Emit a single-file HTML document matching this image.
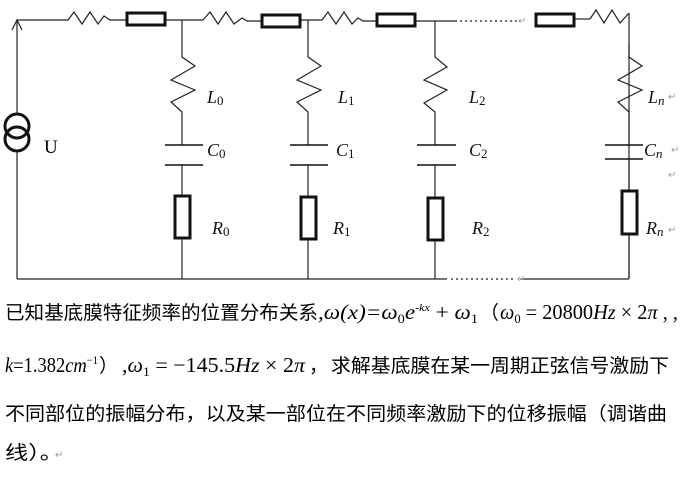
<!DOCTYPE html>
<html><head><meta charset="utf-8"><style>
html,body{margin:0;padding:0;background:#fff;width:690px;height:479px;overflow:hidden}
svg{display:block}
.m{font-family:"Liberation Serif",serif;font-style:italic;font-size:21px}
.n{font-family:"Liberation Serif",serif;font-size:18px}
.c{font-family:"Liberation Sans","Noto Sans CJK SC",sans-serif;font-size:19px}
.lb{font-family:"Liberation Serif",serif;font-style:italic;font-size:18px;fill:#111}
.sb{font-family:"Liberation Serif",serif;font-style:normal;font-size:13px}
.ret{font-family:"Liberation Sans",sans-serif;font-size:10px;fill:#999}
</style></head><body>
<svg width="690" height="479" viewBox="0 0 690 479" xmlns="http://www.w3.org/2000/svg">
<g fill="none" stroke="#222" stroke-width="1.2">
<line x1="17" y1="20" x2="17" y2="113"/>
<line x1="17" y1="152" x2="17" y2="279"/>
<path d="M12,30 L17,20 L22,30"/>
<path d="M17,20 H68 L74,12 L82,24 L90,12 L98,24 L104,16 L110,20 H127"/>
<line x1="165" y1="20" x2="203" y2="20"/>
<path d="M203,20 L210,12 L218,24 L226,12 L234,24 L242,18 L247,21 H262"/>
<line x1="300" y1="20" x2="322" y2="20"/>
<path d="M322,20 L328,12 L336,24 L344,12 L352,24 L358,18 L363,21 H377"/>
<line x1="415" y1="21" x2="455" y2="21"/>
<line x1="574" y1="19" x2="590" y2="19"/>
<path d="M590,19 L596,10 L604,23 L612,10 L620,23 L629,13"/>
<line x1="629" y1="13" x2="629" y2="279"/>
<line x1="17" y1="279" x2="447" y2="279"/>
<line x1="520" y1="279" x2="629" y2="279"/>
</g>
<g fill="none" stroke="#222" stroke-width="1.2" stroke-dasharray="2,3">
<line x1="455" y1="21" x2="517" y2="21"/>
<line x1="451" y1="279" x2="516" y2="279"/>
</g>
<g fill="none" stroke="#111" stroke-width="3">
<circle cx="17" cy="126" r="12"/>
<circle cx="17" cy="139" r="12"/>
</g>
<g fill="#fff" stroke="#111" stroke-width="3">
<rect x="127" y="13" width="38" height="12"/>
<rect x="262" y="15" width="38" height="12"/>
<rect x="377" y="14" width="38" height="12"/>
<rect x="536" y="14" width="38" height="12"/>
</g>
<g fill="none" stroke="#222" stroke-width="1.2">
<path d="M182,20 V57 L195,66 L171,80 L195,90 L171,102 L182,112 V145"/>
<path d="M308,20 V57 L321,66 L297,80 L321,90 L297,102 L308,112 V145"/>
<path d="M435,21 V57 L447,67 L424,80 L447,90 L424,103 L435,112 V145"/>
<path d="M629,45 V57 L642,66 L618,80 L642,90 L618,102 L629,112 V145"/>
<line x1="182" y1="165" x2="182" y2="195"/><line x1="182" y1="238" x2="182" y2="279"/>
<line x1="308" y1="165" x2="308" y2="196"/><line x1="308" y1="239" x2="308" y2="279"/>
<line x1="435" y1="165" x2="435" y2="197"/><line x1="435" y1="240" x2="435" y2="279"/>
<line x1="629" y1="159" x2="629" y2="191"/><line x1="629" y1="234" x2="629" y2="279"/>
</g>
<g stroke="#111" stroke-width="1.6">
<line x1="165" y1="145" x2="203" y2="145"/><line x1="165" y1="165" x2="203" y2="165"/>
<line x1="290" y1="145" x2="328" y2="145"/><line x1="290" y1="165" x2="328" y2="165"/>
<line x1="417" y1="145" x2="456" y2="145"/><line x1="417" y1="165" x2="456" y2="165"/>
<line x1="605" y1="145" x2="643" y2="145"/><line x1="605" y1="159" x2="643" y2="159"/>
</g>
<g fill="#fff" stroke="#111" stroke-width="3">
<rect x="175" y="196" width="15" height="42"/>
<rect x="301" y="197" width="15" height="42"/>
<rect x="428" y="198" width="15" height="42"/>
<rect x="622" y="191" width="15" height="43"/>
</g>
<text x="44" y="153" class="n" style="font-size:19px">U</text>
<text x="207" y="103" class="lb">L<tspan class="sb" dy="2">0</tspan></text>
<text x="207" y="156" class="lb">C<tspan class="sb" dy="2">0</tspan></text>
<text x="212" y="234" class="lb">R<tspan class="sb" dy="2">0</tspan></text>
<text x="338" y="103" class="lb">L<tspan class="sb" dy="2">1</tspan></text>
<text x="336" y="156" class="lb">C<tspan class="sb" dy="2">1</tspan></text>
<text x="333" y="234" class="lb">R<tspan class="sb" dy="2">1</tspan></text>
<text x="469" y="103" class="lb">L<tspan class="sb" dy="2">2</tspan></text>
<text x="469" y="156" class="lb">C<tspan class="sb" dy="2">2</tspan></text>
<text x="472" y="234" class="lb">R<tspan class="sb" dy="2">2</tspan></text>
<text x="648" y="103" class="lb">L<tspan class="sb" dy="2" style="font-style:italic">n</tspan></text>
<text x="644" y="156" class="lb">C<tspan class="sb" dy="2" style="font-style:italic">n</tspan></text>
<text x="646" y="234" class="lb">R<tspan class="sb" dy="2" style="font-style:italic">n</tspan></text>
<text x="518" y="24" class="ret">↵</text>
<text x="668" y="100" class="ret">↵</text>
<text x="671" y="153" class="ret">↵</text>
<text x="668" y="178" class="ret">↵</text>
<text x="668" y="233" class="ret">↵</text>
<text x="517" y="282" class="ret">↵</text>
<text x="5" y="319" class="c" textLength="313" lengthAdjust="spacingAndGlyphs">已知基底膜特征频率的位置分布关系</text>
<text x="318" y="319" class="m" textLength="160" lengthAdjust="spacingAndGlyphs">,ω(x)=ω<tspan class="sb" dy="4">0</tspan><tspan dy="-4">e</tspan><tspan style="font-size:11px" dy="-8">-kx</tspan><tspan dy="8" style="font-style:normal"> + </tspan>ω<tspan class="sb" dy="4">1</tspan></text>
<text x="480" y="319" class="c">（</text>
<text x="500" y="319" class="m" textLength="178" lengthAdjust="spacingAndGlyphs">ω<tspan class="sb" dy="4">0</tspan><tspan dy="-4" style="font-style:normal"> = 20800</tspan>Hz<tspan style="font-style:normal"> × 2</tspan>π<tspan style="font-style:normal"> , ,</tspan></text>
<text x="5" y="372" class="m" textLength="93" lengthAdjust="spacingAndGlyphs">k<tspan style="font-style:normal">=1.382</tspan>cm<tspan style="font-size:12px;font-style:normal" dy="-8">−1</tspan></text>
<text x="99" y="372" class="c">）</text>
<text x="122" y="372" class="m" textLength="183" lengthAdjust="spacingAndGlyphs"><tspan style="font-style:normal">,</tspan>ω<tspan class="sb" dy="4">1</tspan><tspan dy="-4" style="font-style:normal"> = −145.5</tspan>Hz<tspan style="font-style:normal"> × 2</tspan>π</text>
<text x="309" y="372" class="c">，</text>
<text x="331" y="372" class="c" textLength="338" lengthAdjust="spacingAndGlyphs">求解基底膜在某一周期正弦信号激励下</text>
<text x="5" y="420" class="c" textLength="662" lengthAdjust="spacingAndGlyphs">不同部位的振幅分布，以及某一部位在不同频率激励下的位移振幅（调谐曲</text>
<text x="5" y="459" class="c" textLength="58" lengthAdjust="spacingAndGlyphs">线）。</text>
<text x="55" y="458" class="ret">↵</text>
</svg>
</body></html>
